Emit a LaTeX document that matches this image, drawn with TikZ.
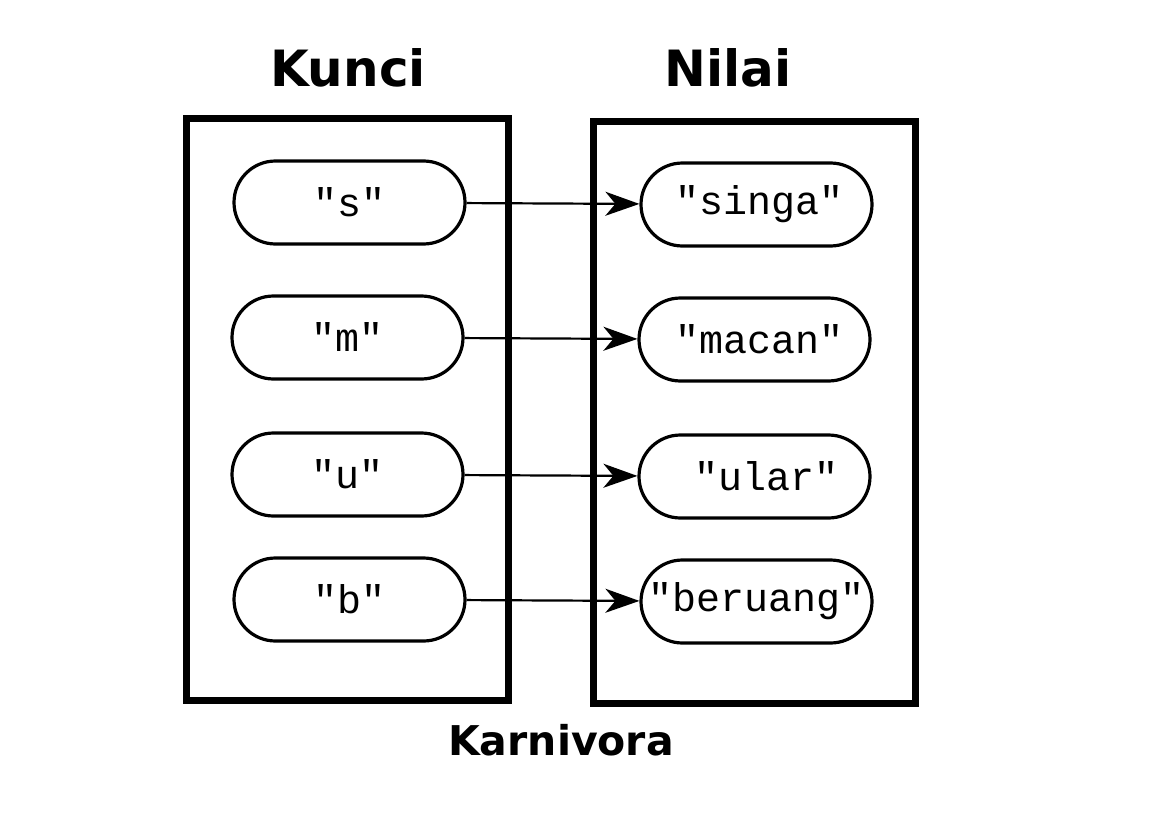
\documentclass[tikz,border=0pt]{standalone}
\usepackage{fontspec}
\setmainfont{DejaVu Sans}
\setmonofont{Liberation Mono}
\usetikzlibrary{arrows.meta}

\begin{document}
\begin{tikzpicture}
  [x=0.5pt, y=-0.5pt,
   box/.style={draw, line width=3.5pt, minimum width=161pt, minimum height=291pt, inner sep=0pt},
   pill/.style={draw, line width=1.6pt, rounded corners=20.75pt, minimum width=115.5pt,
                minimum height=41.5pt, inner sep=0pt, font=\fontsize{20}{24}\selectfont\ttfamily},
   title/.style={anchor=base, font=\fontsize{25}{30}\selectfont\bfseries},
   link/.style={line width=1.1pt, -{Stealth[length=17pt, width=12pt, inset=5pt]}}]
  \useasboundingbox (0,0) rectangle (1158,819);
  % kolom kunci dan nilai
  \node[title] (kunci) at (348,86) {Kunci};
  \node[title] (nilai) at (728,86) {Nilai};
  \node[box] (kotakkunci) at (347,409) {};
  \node[box] (kotaknilai) at (754,412) {};
  \node[title, font=\fontsize{20.5}{24}\selectfont\bfseries] (karnivora) at (561,755) {Karnivora};
  % kunci
  \node[pill] (s) at (349.5,202.5) {"s"};
  \node[pill] (m) at (347.5,337.5) {"m"};
  \node[pill] (u) at (347.5,474.5) {"u"};
  \node[pill] (b) at (349.5,599.5) {"b"};
  % nilai
  \node[pill] (singa) at (756.5,204.5) {\hspace*{3pt}"singa"};
  \node[pill] (macan) at (754.5,339.5) {\hspace*{5pt}"macan"};
  \node[pill] (ular) at (754.5,476.5) {\hspace*{12pt}"ular"};
  \node[pill] (beruang) at (756.5,601.5) {"beruang"};
  \draw[link] (s) -- (singa);
  \draw[link] (m) -- (macan);
  \draw[link] (u) -- (ular);
  \draw[link] (b) -- (beruang);
\end{tikzpicture}
\end{document}
